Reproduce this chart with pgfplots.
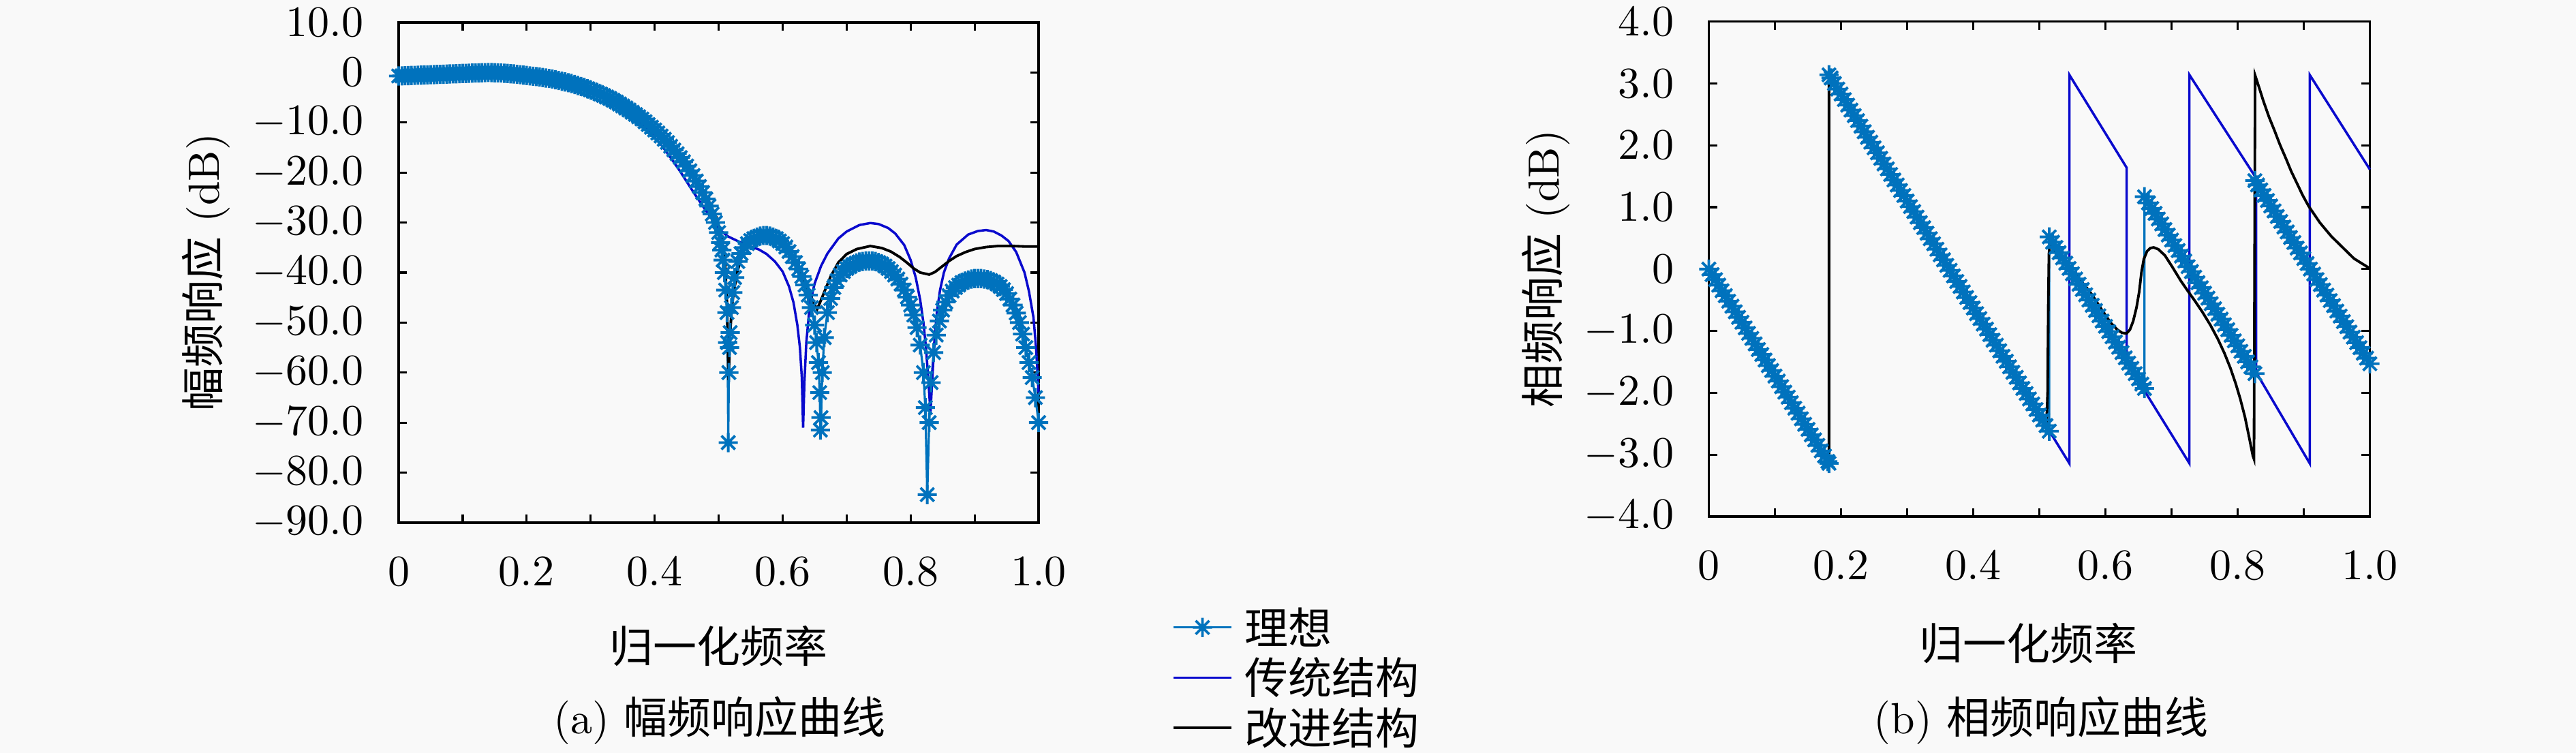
\documentclass[border=0pt]{standalone}
\usepackage{fontspec}
\newfontfamily\cjk{Noto Sans CJK SC}
\usepackage{pgfplots}
\pgfplotsset{compat=1.18}
\definecolor{ideal}{RGB}{0,114,189}
\definecolor{trad}{RGB}{10,10,205}
\definecolor{bg}{RGB}{249,249,249}
\pgfdeclareplotmark{mstar}{%
  \pgfpathmoveto{\pgfqpoint{-\pgfplotmarksize}{0pt}}\pgfpathlineto{\pgfqpoint{\pgfplotmarksize}{0pt}}%
  \pgfpathmoveto{\pgfqpoint{0pt}{-\pgfplotmarksize}}\pgfpathlineto{\pgfqpoint{0pt}{\pgfplotmarksize}}%
  \pgfpathmoveto{\pgfqpoint{-.7071\pgfplotmarksize}{-.7071\pgfplotmarksize}}\pgfpathlineto{\pgfqpoint{.7071\pgfplotmarksize}{.7071\pgfplotmarksize}}%
  \pgfpathmoveto{\pgfqpoint{-.7071\pgfplotmarksize}{.7071\pgfplotmarksize}}\pgfpathlineto{\pgfqpoint{.7071\pgfplotmarksize}{-.7071\pgfplotmarksize}}%
  \pgfusepathqstroke}
\pgfplotsset{
  myaxis/.style={
    scale only axis,
    anchor=south west,
    xmin=0, xmax=1,
    xtick={0,0.2,0.4,0.6,0.8,1.0},
    xticklabels={$0$,$0.2$,$0.4$,$0.6$,$0.8$,$1.0$},
    minor xtick={0.1,0.3,0.5,0.7,0.9},
    tick align=inside,
    major tick length=1.9pt,
    minor tick length=1.9pt,
    tick style={black, line width=0.5pt},
    axis line style={black, line width=0.5pt},
    xticklabel style={yshift=-4.5pt},
    yticklabel style={xshift=-4.5pt},
    clip=false,
  },
  idealstyle/.style={color=ideal, line width=0.5pt, mark=mstar, mark size=2.2pt, mark options={line width=0.6pt, solid}},
  tradstyle/.style={color=trad, line width=0.55pt, mark=none},
  impstyle/.style={color=black, line width=0.6pt, mark=none},
}
\begin{document}
\begin{tikzpicture}
\fill[bg] (0,0) rectangle (590.625pt,-172.66pt);
% ---------------- (a) magnitude ----------------
\begin{axis}[myaxis,
  at={(91.41pt,-119.84pt)}, width=146.72pt, height=114.69pt,
  ymin=-90, ymax=10,
  ytick={-90,-80,-70,-60,-50,-40,-30,-20,-10,0,10},
  yticklabels={$-90.0$,$-80.0$,$-70.0$,$-60.0$,$-50.0$,$-40.0$,$-30.0$,$-20.0$,$-10.0$,$0$,$10.0$},
  xlabel={{\cjk 归一化频率}},
  ylabel={{\cjk 幅频响应} (dB)},
  every axis x label/.style={at={(axis description cs:0.5,-0.2466)}, anchor=center},
  every axis y label/.style={at={(axis description cs:-0.3014,0.5)}, anchor=center, rotate=90},
  legend style={at={(axis description cs:1.2087,-0.1594)}, anchor=north west, draw=none, fill=none,
    inner sep=0pt, outer sep=0pt, row sep=0pt, column sep=2.8pt, font=\cjk,
    nodes={inner sep=0pt, text height=9.55pt, text depth=1.95pt}},
  legend cell align=left,
  legend image code/.code={\draw[mark repeat=2,mark phase=2,#1] plot coordinates {(0pt,0pt) (6.65pt,0pt) (13.3pt,0pt)};},
]
\addplot[idealstyle] coordinates {
(0.000,-0.70)(0.005,-0.68)(0.010,-0.65)(0.015,-0.63)(0.020,-0.60)(0.025,-0.58)(0.030,-0.55)(0.035,-0.53)(0.040,-0.50)(0.045,-0.48)
(0.050,-0.45)(0.055,-0.43)(0.060,-0.40)(0.065,-0.38)(0.070,-0.35)(0.075,-0.33)(0.080,-0.30)(0.085,-0.28)(0.090,-0.25)(0.095,-0.23)
(0.100,-0.20)(0.105,-0.18)(0.110,-0.15)(0.115,-0.13)(0.120,-0.10)(0.125,-0.08)(0.130,-0.05)(0.135,-0.03)(0.140,0.00)(0.145,-0.02)
(0.150,-0.05)(0.155,-0.07)(0.160,-0.10)(0.165,-0.15)(0.170,-0.20)(0.175,-0.25)(0.180,-0.30)(0.185,-0.38)(0.190,-0.45)(0.195,-0.52)
(0.200,-0.60)(0.205,-0.68)(0.210,-0.75)(0.215,-0.82)(0.220,-0.90)(0.225,-1.00)(0.230,-1.10)(0.235,-1.20)(0.240,-1.30)(0.245,-1.45)
(0.250,-1.60)(0.255,-1.75)(0.260,-1.90)(0.265,-2.05)(0.270,-2.20)(0.275,-2.40)(0.280,-2.60)(0.285,-2.80)(0.290,-3.00)(0.295,-3.25)
(0.300,-3.50)(0.305,-3.75)(0.310,-4.00)(0.315,-4.30)(0.320,-4.60)(0.325,-4.90)(0.330,-5.20)(0.335,-5.55)(0.340,-5.90)(0.345,-6.30)
(0.350,-6.70)(0.355,-7.10)(0.360,-7.50)(0.365,-7.95)(0.370,-8.40)(0.375,-8.85)(0.380,-9.30)(0.385,-9.85)(0.390,-10.40)(0.395,-10.95)
(0.400,-11.50)(0.405,-12.10)(0.410,-12.70)(0.415,-13.35)(0.420,-14.00)(0.425,-14.75)(0.430,-15.50)(0.435,-16.25)(0.440,-17.00)(0.445,-17.85)
(0.450,-18.70)(0.455,-19.65)(0.460,-20.60)(0.465,-21.70)(0.470,-22.80)(0.475,-24.00)(0.480,-25.30)(0.485,-26.70)(0.490,-28.30)(0.495,-30.00)
(0.500,-32.0)(0.503,-34.0)(0.505,-35.5)(0.507,-37.5)(0.509,-40.0)(0.511,-43.5)(0.513,-48.0)(0.514,-54.0)(0.515,-74.0)(0.516,-60.0)
(0.517,-55.0)(0.518,-52.0)(0.520,-47.0)(0.522,-44.0)(0.525,-41.0)(0.530,-37.8)(0.535,-36.2)(0.540,-35.0)(0.545,-34.2)(0.550,-33.6)
(0.555,-33.2)(0.560,-32.9)(0.565,-32.7)(0.570,-32.6)(0.575,-32.6)(0.580,-32.7)(0.585,-32.9)(0.590,-33.2)(0.595,-33.7)(0.600,-34.2)
(0.605,-34.9)(0.610,-35.8)(0.615,-36.8)(0.620,-38.0)(0.625,-39.3)(0.630,-40.8)(0.635,-42.5)(0.640,-44.5)(0.645,-47.0)(0.650,-50.5)
(0.653,-54.0)(0.656,-58.0)(0.658,-64.0)(0.659,-71.5)(0.660,-69.0)(0.662,-60.0)(0.665,-53.0)(0.670,-48.0)(0.675,-45.2)(0.680,-43.0)
(0.685,-41.6)(0.690,-40.5)(0.695,-39.8)(0.700,-39.2)(0.705,-38.8)(0.710,-38.4)(0.715,-38.1)(0.720,-37.9)(0.725,-37.8)(0.730,-37.7)
(0.735,-37.7)(0.740,-37.7)(0.745,-37.8)(0.750,-38.0)(0.755,-38.3)(0.760,-38.7)(0.765,-39.2)(0.770,-39.8)(0.775,-40.5)(0.780,-41.3)
(0.785,-42.3)(0.790,-43.5)(0.795,-44.9)(0.800,-46.5)(0.805,-48.5)(0.810,-51.0)(0.815,-54.5)(0.820,-60.0)(0.823,-67.0)(0.826,-84.4)
(0.829,-70.0)(0.832,-62.0)(0.836,-56.0)(0.840,-52.5)(0.845,-49.7)(0.850,-47.5)(0.855,-45.9)(0.860,-44.6)(0.865,-43.7)(0.870,-43.0)
(0.875,-42.5)(0.880,-42.0)(0.885,-41.7)(0.890,-41.5)(0.895,-41.3)(0.900,-41.2)(0.905,-41.2)(0.910,-41.2)(0.915,-41.3)(0.920,-41.4)
(0.925,-41.6)(0.930,-41.9)(0.935,-42.3)(0.940,-42.8)(0.945,-43.4)(0.950,-44.2)(0.955,-45.3)(0.960,-46.5)(0.965,-48.1)(0.970,-50.0)
(0.975,-52.3)(0.980,-55.0)(0.985,-58.0)(0.990,-61.0)(0.995,-65.0)(1.000,-70.0)
};
\addlegendentry{理想}
\addplot[tradstyle] coordinates {
(0,-0.4)(0.05,-0.3)(0.10,-0.15)(0.14,0)(0.18,-0.3)(0.22,-0.9)(0.26,-2.0)(0.28,-2.8)(0.30,-4.0)(0.32,-5.1)
(0.34,-6.5)(0.355,-7.7)(0.37,-9.2)(0.391,-11.8)(0.41,-14.4)(0.426,-17.2)(0.44,-19.8)(0.461,-24.0)(0.48,-27.6)(0.497,-30.5)
(0.505,-31.8)(0.515,-32.8)(0.533,-33.9)(0.55,-34.8)(0.563,-35.4)(0.575,-36.3)(0.588,-37.8)(0.60,-39.8)(0.61,-42.8)(0.617,-46)
(0.623,-50.5)(0.627,-55)(0.630,-61)(0.632,-71)(0.634,-62)(0.637,-54)(0.641,-48.5)(0.645,-45)(0.65,-42.2)(0.66,-38.7)
(0.67,-36.2)(0.687,-33.2)(0.70,-31.8)(0.72,-30.5)(0.737,-30.1)(0.75,-30.3)(0.765,-31.1)(0.776,-32.2)(0.79,-34.5)(0.80,-37.5)
(0.808,-41)(0.815,-45.5)(0.82,-50)(0.824,-55)(0.828,-62)(0.831,-68)(0.834,-61)(0.837,-54)(0.841,-48)(0.846,-43.5)
(0.852,-40)(0.86,-37.2)(0.872,-34.4)(0.89,-32.4)(0.905,-31.7)(0.918,-31.5)(0.93,-31.8)(0.942,-32.6)(0.953,-33.7)(0.965,-35.9)
(0.978,-40)(0.985,-43.8)(0.992,-49)(0.996,-55)(1.0,-64)
};
\addlegendentry{传统结构}
\addplot[impstyle] coordinates {
(0,-0.8)(0.05,-0.6)(0.10,-0.3)(0.14,-0.15)(0.18,-0.3)(0.22,-0.8)(0.26,-1.8)(0.30,-3.3)(0.34,-5.6)(0.38,-9.0)
(0.40,-11.2)(0.426,-14.1)(0.44,-16.3)(0.461,-20.5)(0.48,-24.5)(0.497,-29.1)(0.505,-33)(0.51,-38)(0.513,-46)(0.5155,-61.5)
(0.518,-52)(0.521,-46.5)(0.524,-43.5)(0.53,-39.5)(0.535,-37.2)(0.543,-34.8)(0.552,-33.2)(0.563,-32.4)(0.574,-32.1)(0.585,-32.4)
(0.599,-33.9)(0.611,-35.8)(0.623,-38.5)(0.632,-40.8)(0.641,-43.6)(0.648,-46)(0.654,-47.3)(0.66,-45.5)(0.666,-43.6)(0.675,-40.8)
(0.687,-38)(0.70,-36.3)(0.716,-35.3)(0.737,-34.7)(0.755,-35.1)(0.769,-35.8)(0.783,-36.9)(0.794,-38)(0.805,-39.2)(0.815,-40)
(0.829,-40.4)(0.838,-39.9)(0.847,-39)(0.86,-37.7)(0.872,-36.7)(0.886,-35.9)(0.9,-35.3)(0.918,-34.9)(0.936,-34.7)(0.96,-34.7)
(0.98,-34.8)(1.0,-34.8)
};
\addlegendentry{改进结构}
\end{axis}
% ---------------- (b) phase ----------------
\begin{axis}[myaxis,
  at={(391.80pt,-118.44pt)}, width=151.56pt, height=113.48pt,
  ymin=-4, ymax=4,
  ytick={-4,-3,-2,-1,0,1,2,3,4},
  yticklabels={$-4.0$,$-3.0$,$-2.0$,$-1.0$,$0$,$1.0$,$2.0$,$3.0$,$4.0$},
  xlabel={{\cjk 归一化频率}},
  ylabel={{\cjk 相频响应} (dB)},
  every axis x label/.style={at={(axis description cs:0.483,-0.2561)}, anchor=center},
  every axis y label/.style={at={(axis description cs:-0.2469,0.5)}, anchor=center, rotate=90},
]
\addplot[idealstyle] coordinates {
(0.000,0)(0.005,-0.09)(0.010,-0.17)(0.015,-0.26)(0.020,-0.35)(0.025,-0.43)(0.030,-0.52)(0.035,-0.60)(0.040,-0.69)(0.045,-0.78)
(0.050,-0.86)(0.055,-0.95)(0.060,-1.04)(0.065,-1.12)(0.070,-1.21)(0.075,-1.30)(0.080,-1.38)(0.085,-1.47)(0.090,-1.56)(0.095,-1.64)
(0.100,-1.73)(0.105,-1.81)(0.110,-1.90)(0.115,-1.99)(0.120,-2.07)(0.125,-2.16)(0.130,-2.25)(0.135,-2.33)(0.140,-2.42)(0.145,-2.51)
(0.150,-2.59)(0.155,-2.68)(0.160,-2.76)(0.165,-2.85)(0.170,-2.94)(0.175,-3.02)(0.180,-3.11)(0.1818,-3.14)
(0.1818,3.14)(0.185,3.09)(0.190,3.00)(0.195,2.91)(0.200,2.83)(0.205,2.74)(0.210,2.65)(0.215,2.57)(0.220,2.48)(0.225,2.40)
(0.230,2.31)(0.235,2.22)(0.240,2.13)(0.245,2.05)(0.250,1.96)(0.255,1.88)(0.260,1.79)(0.265,1.70)(0.270,1.62)(0.275,1.53)
(0.280,1.44)(0.285,1.36)(0.290,1.27)(0.295,1.19)(0.300,1.10)(0.305,1.01)(0.310,0.93)(0.315,0.84)(0.320,0.75)(0.325,0.67)
(0.330,0.58)(0.335,0.49)(0.340,0.41)(0.345,0.32)(0.350,0.23)(0.355,0.15)(0.360,0.06)(0.365,-0.02)(0.370,-0.11)(0.375,-0.20)
(0.380,-0.28)(0.385,-0.37)(0.390,-0.46)(0.395,-0.54)(0.400,-0.63)(0.405,-0.72)(0.410,-0.80)(0.415,-0.89)(0.420,-0.97)(0.425,-1.06)
(0.430,-1.15)(0.435,-1.23)(0.440,-1.32)(0.445,-1.41)(0.450,-1.49)(0.455,-1.58)(0.460,-1.67)(0.465,-1.75)(0.470,-1.84)(0.475,-1.93)
(0.480,-2.01)(0.485,-2.10)(0.490,-2.18)(0.495,-2.27)(0.500,-2.36)(0.505,-2.44)(0.510,-2.53)(0.515,-2.62)
(0.515,0.52)(0.520,0.435)(0.525,0.35)(0.530,0.265)(0.535,0.18)(0.540,0.095)(0.545,0.01)(0.550,-0.075)(0.555,-0.16)(0.560,-0.245)
(0.565,-0.33)(0.570,-0.415)(0.575,-0.50)(0.580,-0.585)(0.585,-0.67)(0.590,-0.755)(0.595,-0.84)(0.600,-0.925)(0.605,-1.01)(0.610,-1.095)
(0.615,-1.18)(0.620,-1.265)(0.625,-1.35)(0.630,-1.435)(0.635,-1.52)(0.640,-1.605)(0.645,-1.69)(0.650,-1.775)(0.655,-1.86)(0.659,-1.93)
(0.659,1.17)(0.665,1.07)(0.670,0.98)(0.675,0.90)(0.680,0.81)(0.685,0.73)(0.690,0.64)(0.695,0.55)(0.700,0.47)(0.705,0.38)
(0.710,0.30)(0.715,0.21)(0.720,0.13)(0.725,0.04)(0.730,-0.04)(0.735,-0.13)(0.740,-0.22)(0.745,-0.30)(0.750,-0.39)(0.755,-0.47)
(0.760,-0.56)(0.765,-0.64)(0.770,-0.73)(0.775,-0.81)(0.780,-0.90)(0.785,-0.98)(0.790,-1.07)(0.795,-1.16)(0.800,-1.24)(0.805,-1.33)
(0.810,-1.41)(0.815,-1.50)(0.820,-1.58)(0.826,-1.69)
(0.826,1.43)(0.830,1.36)(0.835,1.28)(0.840,1.19)(0.845,1.11)(0.850,1.02)(0.855,0.94)(0.860,0.85)(0.865,0.77)(0.870,0.68)
(0.875,0.60)(0.880,0.51)(0.885,0.43)(0.890,0.34)(0.895,0.26)(0.900,0.17)(0.905,0.09)(0.910,0.00)(0.915,-0.08)(0.920,-0.17)
(0.925,-0.25)(0.930,-0.34)(0.935,-0.42)(0.940,-0.51)(0.945,-0.59)(0.950,-0.68)(0.955,-0.76)(0.960,-0.85)(0.965,-0.93)(0.970,-1.02)
(0.975,-1.10)(0.980,-1.19)(0.985,-1.27)(0.990,-1.36)(0.995,-1.44)(1.000,-1.53)
};
\addplot[tradstyle] coordinates {
(0,0)(0.1818,-3.14)(0.1818,3.14)(0.5454,-3.14)(0.5454,3.14)(0.632,1.64)(0.632,-1.50)(0.727,-3.14)(0.727,3.14)(0.828,1.47)
(0.828,-1.67)(0.909,-3.14)(0.909,3.14)(1.0,1.61)
};
\addplot[impstyle] coordinates {
(0,0)(0.1818,-3.14)(0.1818,3.14)(0.49,-2.18)(0.500,-2.33)(0.507,-2.41)(0.511,-2.45)(0.5125,-2.0)(0.5135,-0.6)(0.5145,0.25)
(0.516,0.39)(0.525,0.27)(0.535,0.14)(0.546,0.02)(0.558,-0.13)(0.570,-0.28)(0.580,-0.42)(0.594,-0.65)(0.608,-0.87)(0.618,-0.98)
(0.625,-1.03)(0.632,-1.04)(0.637,-0.98)(0.642,-0.84)(0.647,-0.62)(0.651,-0.37)(0.6545,-0.05)(0.658,0.16)(0.663,0.29)(0.668,0.34)
(0.673,0.35)(0.680,0.32)(0.690,0.22)(0.702,0.02)(0.714,-0.19)(0.725,-0.36)(0.735,-0.51)(0.747,-0.70)(0.759,-0.91)(0.770,-1.13)
(0.780,-1.36)(0.789,-1.60)(0.797,-1.85)(0.804,-2.10)(0.811,-2.39)(0.817,-2.70)(0.823,-3.02)(0.8247,-3.07)(0.8264,3.13)(0.832,2.95)
(0.8385,2.73)(0.847,2.47)(0.8557,2.24)(0.864,2.01)(0.8729,1.79)(0.881,1.58)(0.890,1.38)(0.898,1.20)(0.9072,1.02)(0.9244,0.75)
(0.9416,0.53)(0.9588,0.35)(0.976,0.17)(1.0,0.01)
};
\end{axis}
\node[anchor=center] at (165.0pt,-165.16pt) {(a) {\cjk 幅频响应曲线}};
\node[anchor=center] at (467.97pt,-165.16pt) {(b) {\cjk 相频响应曲线}};
\pgfresetboundingbox
\useasboundingbox (0,0) rectangle (590.625pt,-172.66pt);
\end{tikzpicture}
\end{document}
